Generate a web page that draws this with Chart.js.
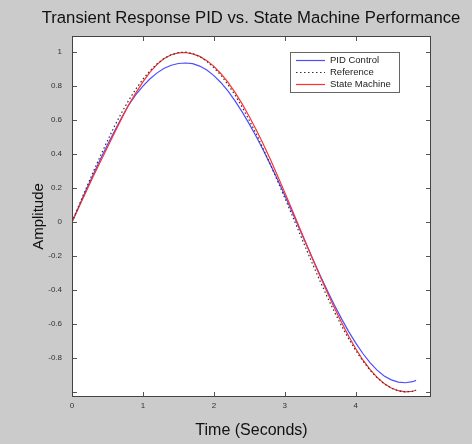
<!DOCTYPE html>
<html lang="en">
<head>
<meta charset="UTF-8">
<title>Transient Response PID vs. State Machine Performance</title>
<style>
  body { margin: 0; background: #cbcbcb; }
  canvas { display: block; }
</style>
</head>
<body>
<canvas id="chart" width="472" height="444"></canvas>
<script src="https://cdn.jsdelivr.net/npm/chart.js"></script>
<script>
// time axis (seconds)
const timeSec = [0, 0.1, 0.2, 0.3, 0.4, 0.5, 0.6, 0.7, 0.8, 0.9,
  1.0, 1.1, 1.2, 1.3, 1.4, 1.5, 1.6, 1.7, 1.8, 1.9,
  2.0, 2.1, 2.2, 2.3, 2.4, 2.5, 2.6, 2.7, 2.8, 2.9,
  3.0, 3.1, 3.2, 3.3, 3.4, 3.5, 3.6, 3.7, 3.8, 3.9,
  4.0, 4.1, 4.2, 4.3, 4.4, 4.5, 4.6, 4.7, 4.8, 4.85];

const pidControl = [0, 0.095, 0.19, 0.28, 0.37, 0.455, 0.535, 0.615, 0.69, 0.75,
  0.80, 0.843, 0.878, 0.905, 0.923, 0.933, 0.936, 0.932, 0.918, 0.895,
  0.862, 0.82, 0.77, 0.712, 0.647, 0.576, 0.5, 0.42, 0.335, 0.247,
  0.156, 0.062, -0.034, -0.13, -0.224, -0.316, -0.405, -0.49, -0.57, -0.645,
  -0.713, -0.774, -0.828, -0.872, -0.906, -0.929, -0.942, -0.946, -0.94, -0.932];

const reference = [0, 0.1, 0.199, 0.296, 0.389, 0.479, 0.565, 0.644, 0.717, 0.783,
  0.841, 0.891, 0.932, 0.964, 0.985, 0.997, 1.0, 0.992, 0.974, 0.946,
  0.909, 0.863, 0.808, 0.746, 0.675, 0.598, 0.516, 0.427, 0.335, 0.239,
  0.141, 0.042, -0.058, -0.158, -0.256, -0.351, -0.443, -0.53, -0.612, -0.688,
  -0.757, -0.818, -0.872, -0.916, -0.952, -0.978, -0.994, -1.0, -0.996, -0.99];

const stateMachine = [0, 0.09, 0.18, 0.27, 0.355, 0.44, 0.525, 0.61, 0.69, 0.76,
  0.825, 0.882, 0.928, 0.962, 0.985, 0.996, 0.998, 0.99, 0.975, 0.95,
  0.916, 0.873, 0.822, 0.762, 0.694, 0.62, 0.54, 0.455, 0.365, 0.27,
  0.173, 0.074, -0.026, -0.126, -0.226, -0.322, -0.416, -0.506, -0.592, -0.672,
  -0.746, -0.812, -0.868, -0.914, -0.951, -0.977, -0.993, -1.0, -0.996, -0.99];

const xTicks = [0, 1, 2, 3, 4];
const yTicks = [-1, -0.8, -0.6, -0.4, -0.2, 0, 0.2, 0.4, 0.6, 0.8, 1];

const FONT = '"Liberation Sans", Arial, sans-serif';

function toPoints(ys) {
  return ys.map((y, i) => ({ x: timeSec[i], y: y }));
}

// matlab-ish frame: grey figure, white axes, inward ticks, boxed legend
const matlabFrame = {
  id: 'matlabFrame',
  beforeDraw(chart) {
    const { ctx, chartArea: a } = chart;
    ctx.save();
    ctx.fillStyle = '#cbcbcb';
    ctx.fillRect(0, 0, chart.width, chart.height);
    ctx.fillStyle = '#ffffff';
    ctx.fillRect(a.left, a.top, a.right - a.left, a.bottom - a.top);

    ctx.fillStyle = '#111';
    ctx.font = '16.7px ' + FONT;
    ctx.textAlign = 'center';
    ctx.textBaseline = 'middle';
    ctx.fillText('Transient Response PID vs. State Machine Performance', 251, 18);
    ctx.restore();
  },
  afterDatasetsDraw(chart) {
    const { ctx, chartArea: a, scales } = chart;
    ctx.save();
    ctx.strokeStyle = '#555';
    ctx.lineWidth = 1;
    ctx.beginPath();
    scales.x.ticks.forEach(t => {
      const px = Math.round(scales.x.getPixelForValue(t.value)) + 0.5;
      ctx.moveTo(px, a.bottom); ctx.lineTo(px, a.bottom - 5);
      ctx.moveTo(px, a.top); ctx.lineTo(px, a.top + 5);
    });
    scales.y.ticks.forEach(t => {
      const py = Math.round(scales.y.getPixelForValue(t.value)) + 0.5;
      ctx.moveTo(a.left, py); ctx.lineTo(a.left + 5, py);
      ctx.moveTo(a.right, py); ctx.lineTo(a.right - 5, py);
    });
    ctx.stroke();

    ctx.strokeStyle = '#444';
    ctx.strokeRect(a.left + 0.5, a.top + 0.5, a.right - a.left - 1, a.bottom - a.top - 1);

    // legend
    const bx = a.right - 141, by = a.top + 16, bw = 109, bh = 40;
    ctx.fillStyle = '#fff';
    ctx.fillRect(bx, by, bw, bh);
    ctx.strokeStyle = '#666';
    ctx.strokeRect(bx + 0.5, by + 0.5, bw, bh);
    ctx.font = '9.5px ' + FONT;
    ctx.textAlign = 'left';
    ctx.textBaseline = 'middle';
    chart.data.datasets.forEach((ds, i) => {
      const y = by + 8 + i * 12;
      ctx.beginPath();
      ctx.strokeStyle = ds.borderColor;
      ctx.lineWidth = ds.borderWidth;
      ctx.setLineDash(ds.borderDash || []);
      ctx.moveTo(bx + 6, y + 0.5);
      ctx.lineTo(bx + 35, y + 0.5);
      ctx.stroke();
      ctx.setLineDash([]);
      ctx.fillStyle = '#222';
      ctx.fillText(ds.label, bx + 40, y);
    });
    ctx.restore();
  }
};

new Chart(document.getElementById('chart'), {
  type: 'line',
  data: {
    datasets: [
      { label: 'PID Control', data: toPoints(pidControl), borderColor: '#4d4dff', borderWidth: 1.2, order: 2 },
      { label: 'Reference', data: toPoints(reference), borderColor: '#333333', borderWidth: 1.2, borderDash: [1.5, 2.5], order: 0 },
      { label: 'State Machine', data: toPoints(stateMachine), borderColor: '#ff3030', borderWidth: 1.2, order: 1 }
    ]
  },
  options: {
    responsive: false,
    animation: false,
    layout: { padding: { top: 36, right: 41, left: 0, bottom: 0 } },
    elements: { point: { radius: 0 }, line: { tension: 0, fill: false } },
    plugins: {
      legend: { display: false },
      tooltip: { enabled: false },
      title: { display: false }
    },
    scales: {
      x: {
        type: 'linear',
        min: 0,
        max: 5.06,
        afterBuildTicks: s => { s.ticks = xTicks.map(v => ({ value: v })); },
        afterFit: s => { s.height = 47; },
        grid: { display: false, drawTicks: false },
        border: { display: false },
        ticks: { autoSkip: false, padding: 4, color: '#333', font: { family: FONT, size: 8 }, maxRotation: 0,
          callback: v => String(v) },
        title: { display: true, text: 'Time (Seconds)', color: '#111', font: { family: FONT, size: 16 }, padding: { top: 0, bottom: 4 } }
      },
      y: {
        type: 'linear',
        min: -1.03,
        max: 1.095,
        afterBuildTicks: s => { s.ticks = yTicks.map(v => ({ value: v })); },
        afterFit: s => { s.width = 72; },
        grid: { display: false, drawTicks: false },
        border: { display: false },
        ticks: { autoSkip: false, padding: 10, color: '#333', font: { family: FONT, size: 8 },
          callback: v => (v === -1 ? '' : String(v)) },
        title: { display: true, text: 'Amplitude', color: '#111', font: { family: FONT, size: 15 }, padding: { top: 30, bottom: 0 } }
      }
    }
  },
  plugins: [matlabFrame]
});
</script>
</body>
</html>
